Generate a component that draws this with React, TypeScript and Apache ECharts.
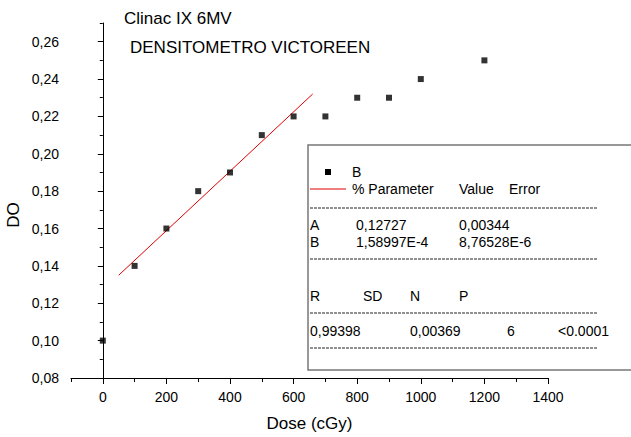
import React, { useEffect, useRef } from "react";
import * as echarts from "echarts";

const doseValues = [0, 100, 200, 300, 400, 500, 600, 700, 800, 900, 1000, 1200];
const doValues = [0.1, 0.14, 0.16, 0.18, 0.19, 0.21, 0.22, 0.22, 0.23, 0.23, 0.24, 0.25];
const fitLineX = [50, 660];
const fitLineY = [0.135, 0.232];

const xMajorTicks = [0, 200, 400, 600, 800, 1000, 1200, 1400];
const yMajorTicks = [0.08, 0.1, 0.12, 0.14, 0.16, 0.18, 0.2, 0.22, 0.24, 0.26];

const titleLines = ["Clinac IX 6MV", "DENSITOMETRO VICTOREEN"];
const yAxisName = "DO";
const xAxisName = "Dose (cGy)";
const tableHeader = ["% Parameter", "Value", "Error"];
const tableRowA = ["A", "0,12727", "0,00344"];
const tableRowB = ["B", "1,58997E-4", "8,76528E-6"];
const statsHeader = ["R", "SD", "N", "P"];
const statsValues = ["0,99398", "0,00369", "6", "<0.0001"];

const FONT = "'Liberation Sans', Arial, sans-serif";

export default function App() {
  const ref = useRef<HTMLDivElement>(null);
  useEffect(() => {
    if (!ref.current) return;
    const chart = echarts.init(ref.current, null, { renderer: "svg" });
    const txt = (text: string, x: number, y: number, size = 14, align = "left", rotation = 0) => ({
      type: "text",
      x,
      y,
      rotation,
      z: 20,
      style: {
        text,
        fill: "#000",
        font: `${size}px ${FONT}`,
        textAlign: align,
        textVerticalAlign: "middle",
      },
    });
    const dash = (y: number) => ({
      type: "line",
      z: 20,
      shape: { x1: 310, y1: y, x2: 597, y2: y },
      style: { stroke: "#222", lineWidth: 1, lineDash: [3, 1] },
    });
    const col = [310, 356, 459, 509];
    const statCol = [310, 363, 410, 459];
    const statValCol = [310, 410, 507, 558];
    const xBase = {
      type: "value",
      min: -100,
      max: 1400,
      interval: 100,
      splitLine: { show: false },
    };
    const yBase = {
      type: "value",
      min: 0.08,
      max: 0.27,
      interval: 0.01,
      splitLine: { show: false },
    };
    chart.setOption({
      animation: false,
      backgroundColor: "#fff",
      textStyle: { fontFamily: FONT },
      grid: { left: 71, top: 23, right: 83, bottom: 59 },
      xAxis: [
        {
          ...xBase,
          name: xAxisName,
          nameLocation: "middle",
          nameGap: 37,
          nameTextStyle: { fontSize: 17, color: "#000", fontFamily: FONT },
          axisLine: { lineStyle: { color: "#000", width: 1 } },
          axisTick: { length: 4, lineStyle: { color: "#000" } },
          axisLabel: {
            color: "#000",
            fontSize: 14,
            fontFamily: FONT,
            margin: 12,
            formatter: (v: number) => (v >= 0 && Math.round(v) % 200 === 0 ? String(Math.round(v)) : ""),
          },
        },
        {
          ...xBase,
          position: "bottom",
          axisLine: { show: false },
          axisLabel: { show: false },
          axisTick: { show: true, length: 6, customValues: xMajorTicks, lineStyle: { color: "#000" } },
        },
      ],
      yAxis: [
        {
          ...yBase,
          axisLine: { show: true, lineStyle: { color: "#000", width: 1 } },
          axisTick: { show: true, length: 3, lineStyle: { color: "#000" } },
          axisLabel: {
            color: "#000",
            fontSize: 14,
            fontFamily: FONT,
            margin: 12,
            formatter: (v: number) => {
              const k = Math.round(v * 100);
              if (k % 2 !== 0 || k > 26) return "";
              return (k / 100).toFixed(2).replace(".", ",");
            },
          },
        },
        {
          ...yBase,
          position: "left",
          axisLine: { show: false },
          axisLabel: { show: false },
          axisTick: { show: true, length: 5, customValues: yMajorTicks, lineStyle: { color: "#000" } },
        },
      ],
      series: [
        {
          type: "scatter",
          name: "B",
          symbol: "rect",
          symbolSize: 6,
          itemStyle: { color: "#000" },
          data: doseValues.map((d, i) => [d, doValues[i]]),
          z: 5,
        },
        {
          type: "line",
          name: "fit",
          symbol: "none",
          lineStyle: { color: "#e00000", width: 1 },
          data: fitLineX.map((d, i) => [d, fitLineY[i]]),
          z: 4,
        },
      ],
      graphic: [
        txt(titleLines[0], 124, 18, 17),
        txt(titleLines[1], 130, 47, 17),
        txt(yAxisName, 13, 215, 17, "center", Math.PI / 2),
        {
          type: "rect",
          z: 14,
          shape: { x: 308, y: 145, width: 330, height: 225 },
          style: { fill: "#fff", stroke: "none" },
        },
        {
          type: "polyline",
          z: 15,
          shape: { points: [[640, 145], [308, 145], [308, 370], [640, 370]] },
          style: { fill: "none", stroke: "#777", lineWidth: 1.5 },
        },
        {
          type: "rect",
          z: 20,
          shape: { x: 325, y: 169, width: 6, height: 6 },
          style: { fill: "#000" },
        },
        txt("B", 352, 172),
        {
          type: "line",
          z: 20,
          shape: { x1: 310, y1: 189, x2: 346, y2: 189 },
          style: { stroke: "#e00000", lineWidth: 1 },
        },
        txt(tableHeader[0], 352, 189),
        txt(tableHeader[1], col[2], 189),
        txt(tableHeader[2], col[3], 189),
        dash(208),
        ...tableRowA.map((t, i) => txt(t, col[i], 225)),
        ...tableRowB.map((t, i) => txt(t, col[i], 242)),
        dash(259),
        ...statsHeader.map((t, i) => txt(t, statCol[i], 296)),
        dash(313),
        ...statsValues.map((t, i) => txt(t, statValCol[i], 331)),
        dash(348),
      ],
    });
    return () => chart.dispose();
  }, []);
  return (
    <div
      ref={ref}
      style={{ position: "absolute", left: 0, top: 0, width: 631, height: 437 }}
    />
  );
}
